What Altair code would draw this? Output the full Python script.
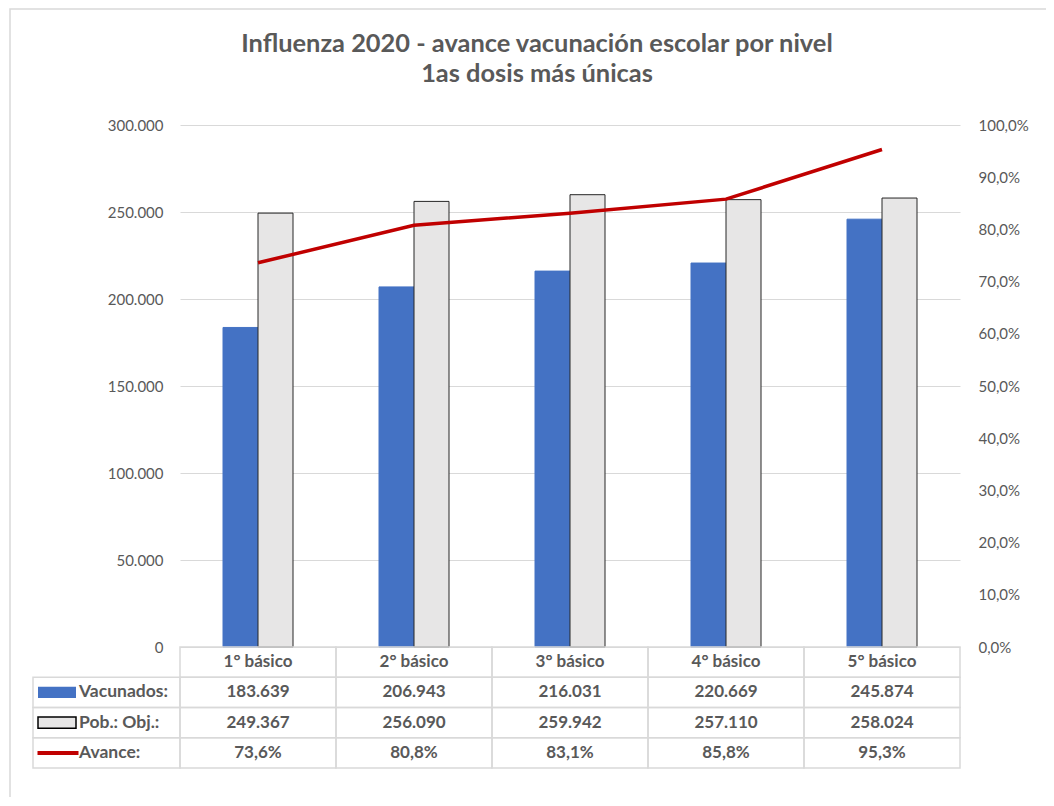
import altair as alt
import pandas as pd

# ---------------- data ----------------
categorias = ["1° básico", "2° básico", "3° básico", "4° básico", "5° básico"]
vacunados = [183639, 206943, 216031, 220669, 245874]
poblacion = [249367, 256090, 259942, 257110, 258024]
avance = [0.736, 0.808, 0.831, 0.858, 0.953]
series = ["Vacunados", "Pob.: Obj."]
filas = ["Nivel", "Vacunados:", "Pob.: Obj.:", "Avance:"]
left_ticks = [0, 50000, 100000, 150000, 200000, 250000, 300000]
right_ticks = [0.0, 0.1, 0.2, 0.3, 0.4, 0.5, 0.6, 0.7, 0.8, 0.9, 1.0]

FONT = "Lato"
GRIS = "#595959"
AZUL = "#4472c4"
CLARO = "#e7e6e6"
ROJO = "#c00000"
BORDE = "#d9d9d9"

W, H = 780, 522

bars_df = pd.DataFrame({
    "categoria": categorias * 2,
    "serie": [series[0]] * len(categorias) + [series[1]] * len(categorias),
    "valor": vacunados + poblacion,
})
line_df = pd.DataFrame({"categoria": categorias, "avance": avance})


def miles(v):
    return f"{v:,}".replace(",", ".")


def pct(v):
    return f"{v * 100:.1f}%".replace(".", ",")


rows = []
for i, c in enumerate(categorias):
    rows.append({"categoria": c, "fila": filas[0], "texto": c})
    rows.append({"categoria": c, "fila": filas[1], "texto": miles(vacunados[i])})
    rows.append({"categoria": c, "fila": filas[2], "texto": miles(poblacion[i])})
    rows.append({"categoria": c, "fila": filas[3], "texto": pct(avance[i])})
table_df = pd.DataFrame(rows)
labels_df = pd.DataFrame({"fila": filas[1:]})

x_scale = alt.Scale(domain=categorias, paddingInner=0, paddingOuter=0)
x_enc = alt.X("categoria:N", sort=categorias, scale=x_scale, axis=None)
t_scale = alt.Scale(type="band", domain=filas, range=[H, H + 121], paddingInner=0, paddingOuter=0)
y_tab = alt.Y("fila:N", sort=filas, scale=t_scale, axis=None)

# ---------------- chart frame (Excel chart-area border) ----------------
frame = alt.Chart(pd.DataFrame({"f": [0]})).mark_rect(
    fill="transparent", stroke=BORDE, strokeWidth=1.5
).encode(x=alt.value(-170), x2=alt.value(1000), y=alt.value(-116), y2=alt.value(800))

# ---------------- bars ----------------
bars = alt.Chart(bars_df).mark_bar(strokeWidth=1).encode(
    x=x_enc,
    xOffset=alt.XOffset("serie:N", sort=series,
                        scale=alt.Scale(domain=series, range=[43, 113], paddingInner=0, paddingOuter=0)),
    y=alt.Y("valor:Q",
            scale=alt.Scale(domain=[0, 300000], nice=False),
            axis=alt.Axis(orient="left", values=left_ticks, format=",.0f", grid=True,
                          gridColor=BORDE, gridWidth=1, domain=False, ticks=False,
                          labelPadding=17, labelFont=FONT, labelFontSize=15,
                          labelColor=GRIS, title=None)),
    color=alt.Color("serie:N", scale=alt.Scale(domain=series, range=[AZUL, CLARO]), legend=None),
    stroke=alt.Stroke("serie:N", scale=alt.Scale(domain=series, range=[AZUL, "#262626"]), legend=None),
)

# ---------------- line ----------------
line = alt.Chart(line_df).mark_line(color=ROJO, strokeWidth=3.5).encode(
    x=x_enc,
    y=alt.Y("avance:Q",
            scale=alt.Scale(domain=[0, 1], nice=False),
            axis=alt.Axis(orient="right", values=right_ticks, format=".1%", grid=False,
                          domain=False, ticks=False, labelPadding=18, labelFont=FONT,
                          labelFontSize=15, labelColor=GRIS, title=None)),
)

# ---------------- table ----------------
cells = alt.Chart(table_df).mark_rect(fill="transparent", stroke=BORDE, strokeWidth=1.5).encode(
    x=x_enc, y=y_tab
)
label_cells = alt.Chart(labels_df).mark_rect(fill="transparent", stroke=BORDE, strokeWidth=1.5).encode(
    x=alt.value(-147), x2=alt.value(0), y=y_tab
)
cell_text = alt.Chart(table_df).mark_text(
    font=FONT, fontSize=17, fontWeight="bold", color=GRIS, align="center", baseline="middle"
).encode(x=x_enc, y=y_tab, text="texto:N")
label_text = alt.Chart(labels_df).mark_text(
    font=FONT, fontSize=17.5, fontWeight="bold", color=GRIS, align="left", baseline="middle"
).encode(x=alt.value(-101), y=y_tab, text="fila:N")

RECT = "M-1,-0.29L1,-0.29L1,0.29L-1,0.29Z"
sym_vac = alt.Chart(pd.DataFrame({"fila": [filas[1]]})).mark_point(
    shape=RECT, size=38 * 38, filled=True, fill=AZUL, color=AZUL, strokeWidth=0, opacity=1
).encode(x=alt.value(-123), y=y_tab)
sym_pob = alt.Chart(pd.DataFrame({"fila": [filas[2]]})).mark_point(
    shape=RECT, size=38 * 38, filled=True, fill=CLARO, stroke="#000000", strokeWidth=1.5, opacity=1
).encode(x=alt.value(-123), y=y_tab)
sym_av = alt.Chart(pd.DataFrame({"fila": [filas[3]]})).mark_point(
    shape="M-1,0L1,0", size=41 * 41, filled=False, stroke=ROJO, strokeWidth=4, opacity=1
).encode(x=alt.value(-122), y=y_tab)

chart = alt.layer(
    frame, bars, line, cells, label_cells, cell_text, label_text, sym_vac, sym_pob, sym_av
).resolve_scale(y="independent").properties(
    width=W,
    height=H,
    autosize=alt.AutoSizeParams(type="none"),
    padding={"left": 172, "top": 117, "right": 86, "bottom": 150},
    title=alt.TitleParams(
        text=["Influenza 2020 - avance vacunación escolar por nivel", "1as dosis más únicas"],
        font=FONT, fontSize=25.4, fontWeight="bold", color=GRIS, anchor="middle",
        frame="group", dx=-33, lineHeight=30, offset=-79,
    ),
).configure(
    locale={"number": {"decimal": ",", "thousands": ".", "grouping": [3], "currency": ["$", ""]}},
    view=alt.ViewConfig(stroke=None),
)

chart.save("out.html", embed_options={"renderer": "svg", "actions": False})
